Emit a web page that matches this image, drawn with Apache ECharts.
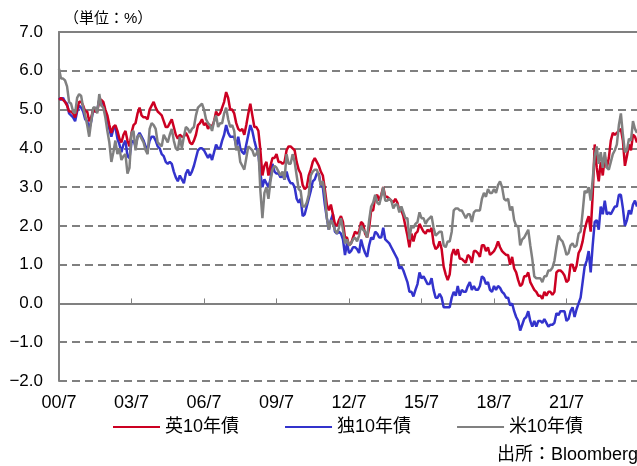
<!DOCTYPE html>
<html>
<head>
<meta charset="utf-8">
<script src="https://cdn.jsdelivr.net/npm/echarts@6/dist/echarts.min.js"></script>
<style>
html,body{margin:0;padding:0;background:#fff;}
#c{width:637px;height:466px;}
</style>
</head>
<body>
<div id="c"></div>
<script>
// monthly categories 2000/7 .. 2024/6 (labels like "00/7")
const startYear = 2000, startMonth = 7, monthCount = 288;
const categories = [];
for (let i = 0; i < monthCount; i++) {
  const m = (startMonth - 1 + i) % 12 + 1;
  const y = startYear + Math.floor((startMonth - 1 + i) / 12);
  categories.push(String(y % 100).padStart(2, '0') + '/' + m);
}

const seriesNames = ['英10年債', '独10年債', '米10年債'];

// UK 10y (%), monthly
const ukY = [
  5.25,5.30,5.25,5.20,5.10,4.95,
  4.95,4.90,4.80,5.00,5.20,5.20,5.10,4.95,4.95,4.70,4.80,5.00,
  4.95,4.95,5.25,5.25,5.20,5.00,4.85,4.60,4.40,4.55,4.60,4.45,
  4.25,4.15,4.35,4.45,4.20,4.05,4.40,4.60,4.65,4.90,5.05,4.85,
  4.80,4.80,4.75,5.00,5.10,5.20,5.05,4.95,4.90,4.85,4.70,4.55,
  4.55,4.65,4.75,4.55,4.35,4.25,4.35,4.30,4.30,4.40,4.30,4.15,
  4.10,4.20,4.35,4.60,4.65,4.75,4.60,4.65,4.50,4.60,4.55,4.70,
  4.95,4.85,4.90,5.05,5.20,5.45,5.30,5.00,5.00,4.90,4.65,4.50,
  4.45,4.50,4.35,4.60,4.90,5.15,4.85,4.55,4.55,4.45,3.95,3.30,
  3.55,3.65,3.30,3.55,3.75,3.75,3.85,3.65,3.65,3.60,3.65,3.95,
  4.05,4.05,4.00,3.95,3.65,3.45,3.35,3.05,2.95,3.00,3.30,3.45,
  3.65,3.75,3.65,3.55,3.40,3.30,2.95,2.55,2.40,2.55,2.30,2.05,
  2.00,2.15,2.25,2.10,1.70,1.70,1.50,1.55,1.70,1.85,1.80,1.85,
  2.10,2.05,1.80,1.70,1.95,2.40,2.40,2.75,2.80,2.65,2.80,3.00,
  2.75,2.75,2.70,2.65,2.60,2.70,2.60,2.40,2.40,2.25,2.00,1.75,
  1.45,1.80,1.60,1.80,1.85,2.05,1.95,1.85,1.80,1.90,1.85,1.95,
  1.55,1.40,1.45,1.60,1.40,0.95,0.75,0.60,0.75,1.25,1.40,1.25,
  1.40,1.15,1.15,1.10,1.05,1.25,1.20,1.05,1.35,1.35,1.30,1.20,
  1.50,1.50,1.35,1.45,1.25,1.30,1.35,1.45,1.60,1.45,1.35,1.30,
  1.25,1.25,1.00,1.20,0.90,0.80,0.60,0.45,0.50,0.70,0.70,0.80,
  0.55,0.45,0.35,0.30,0.20,0.20,0.12,0.30,0.20,0.30,0.30,0.22,
  0.30,0.80,0.85,0.85,0.80,0.72,0.55,0.60,1.00,1.00,0.82,0.97,
  1.30,1.40,1.60,1.90,2.10,2.25,1.85,2.80,4.10,3.50,3.15,3.65,
  3.30,3.80,3.50,3.75,4.20,4.40,4.35,4.40,4.45,4.50,4.20,3.55,
  3.80,4.10,3.95,4.35,4.30,4.15
];

// German 10y (%), monthly
const deY = [
  5.30,5.25,5.30,5.20,5.15,4.90,
  4.85,4.80,4.70,4.95,5.10,5.05,4.95,4.75,4.70,4.50,4.70,5.00,
  4.95,5.00,5.25,5.20,5.15,4.95,4.75,4.50,4.30,4.50,4.55,4.25,
  4.10,3.90,4.10,4.20,3.80,3.75,4.15,4.20,4.05,4.30,4.40,4.30,
  4.20,4.05,3.95,4.20,4.30,4.30,4.20,4.05,4.00,3.85,3.80,3.65,
  3.60,3.65,3.60,3.40,3.25,3.15,3.30,3.20,3.10,3.35,3.45,3.30,
  3.40,3.55,3.75,3.95,4.00,4.00,3.95,3.85,3.75,3.85,3.70,3.90,
  4.10,4.00,4.00,4.20,4.35,4.60,4.40,4.30,4.30,4.30,4.05,4.30,
  4.00,3.90,3.85,4.10,4.35,4.60,4.45,4.20,4.00,3.85,3.35,3.00,
  3.20,3.10,3.00,3.20,3.60,3.40,3.35,3.35,3.25,3.30,3.20,3.40,
  3.20,3.10,3.10,3.00,2.70,2.60,2.70,2.25,2.30,2.50,2.70,2.90,
  3.15,3.20,3.35,3.35,3.05,3.00,2.55,2.20,1.90,2.15,2.30,1.85,
  1.80,1.85,1.80,1.65,1.25,1.55,1.30,1.35,1.45,1.45,1.40,1.30,
  1.65,1.45,1.30,1.20,1.50,1.70,1.65,1.85,1.80,1.70,1.70,1.95,
  1.65,1.60,1.55,1.45,1.35,1.25,1.15,0.90,0.95,0.85,0.70,0.55,
  0.30,0.30,0.18,0.35,0.50,0.80,0.65,0.70,0.60,0.50,0.50,0.65,
  0.35,0.15,0.15,0.25,0.15,-0.10,-0.10,-0.10,-0.10,0.15,0.30,0.20,
  0.45,0.20,0.35,0.30,0.30,0.45,0.55,0.35,0.45,0.35,0.35,0.45,
  0.70,0.65,0.50,0.55,0.35,0.30,0.45,0.35,0.45,0.40,0.30,0.25,
  0.15,0.15,-0.05,0.00,-0.20,-0.35,-0.45,-0.70,-0.55,-0.40,-0.35,-0.20,
  -0.45,-0.60,-0.45,-0.60,-0.45,-0.45,-0.50,-0.40,-0.50,-0.60,-0.55,-0.55,
  -0.50,-0.25,-0.30,-0.20,-0.20,-0.20,-0.45,-0.40,-0.20,-0.10,-0.35,-0.15,
  0.00,0.15,0.55,0.95,1.10,1.35,0.80,1.50,2.10,2.15,1.90,2.50,
  2.30,2.65,2.30,2.35,2.30,2.40,2.50,2.50,2.80,2.80,2.45,2.00,
  2.15,2.40,2.30,2.55,2.65,2.50
];

// US 10y (%), monthly
const usY = [
  6.05,5.80,5.80,5.75,5.60,5.20,
  5.15,4.95,4.90,5.30,5.40,5.35,5.05,4.85,4.60,4.30,4.70,5.05,
  5.05,4.90,5.40,5.10,5.05,4.80,4.45,4.15,3.65,3.90,4.20,3.85,
  4.00,3.70,3.80,3.85,3.35,3.50,4.40,4.45,3.95,4.30,4.35,4.25,
  4.15,3.95,3.85,4.50,4.65,4.60,4.50,4.15,4.10,4.05,4.35,4.25,
  4.15,4.35,4.50,4.20,4.00,3.95,4.30,4.00,4.30,4.55,4.50,4.40,
  4.50,4.55,4.85,5.05,5.10,5.15,5.00,4.75,4.65,4.60,4.45,4.70,
  4.85,4.55,4.65,4.65,4.90,5.05,4.75,4.55,4.60,4.45,3.95,4.05,
  3.65,3.55,3.45,3.75,4.05,4.00,3.95,3.80,3.85,4.00,2.90,2.20,
  2.85,3.00,2.70,3.15,3.45,3.55,3.50,3.40,3.30,3.40,3.20,3.85,
  3.60,3.60,3.85,3.65,3.30,2.95,2.90,2.50,2.50,2.60,2.80,3.30,
  3.40,3.45,3.45,3.30,3.05,3.15,2.80,2.20,1.90,2.15,2.05,1.90,
  1.80,1.95,2.20,1.90,1.55,1.65,1.50,1.55,1.65,1.70,1.60,1.75,
  2.00,1.90,1.85,1.70,2.15,2.50,2.60,2.80,2.60,2.55,2.75,3.00,
  2.65,2.65,2.70,2.65,2.45,2.55,2.55,2.35,2.50,2.35,2.20,2.20,
  1.65,2.00,1.95,2.05,2.10,2.35,2.20,2.20,2.05,2.15,2.20,2.25,
  1.95,1.75,1.80,1.85,1.85,1.50,1.45,1.60,1.60,1.85,2.40,2.45,
  2.45,2.40,2.40,2.30,2.20,2.30,2.30,2.10,2.35,2.40,2.40,2.40,
  2.70,2.85,2.75,2.95,2.85,2.85,2.95,2.85,3.05,3.15,3.00,2.70,
  2.65,2.70,2.40,2.50,2.15,2.00,2.00,1.50,1.65,1.70,1.80,1.90,
  1.50,1.15,0.70,0.65,0.65,0.65,0.55,0.70,0.70,0.85,0.85,0.92,
  1.10,1.45,1.75,1.65,1.60,1.45,1.25,1.30,1.50,1.55,1.45,1.50,
  1.80,1.85,2.35,2.90,2.85,3.00,2.65,3.20,3.80,4.05,3.60,3.90,
  3.50,3.90,3.50,3.45,3.65,3.85,3.95,4.10,4.60,4.90,4.35,3.90,
  3.95,4.25,4.20,4.70,4.50,4.40
];

const colors = ['#cc0022', '#3333cc', '#808080'];
const font = '"Liberation Sans", "Noto Sans CJK JP", sans-serif';

const chart = echarts.init(document.getElementById('c'), null, {renderer: 'canvas'});
const axisGray = '#808080';

const mk = (name, data, color, z) => ({
  name, type: 'line', data, showSymbol: false, symbol: 'none',
  lineStyle: {color, width: 2.5}, itemStyle: {color}, z, animation: false
});

chart.setOption({
  animation: false,
  textStyle: {fontFamily: font, color: '#000'},
  grid: {left: 59, top: 32, right: 0, bottom: 85, containLabel: false},
  legend: {
    data: seriesNames, left: 108, top: 413, icon: 'rect',
    itemWidth: 47, itemHeight: 2, itemGap: 46,
    textStyle: {fontSize: 18, color: '#000', fontFamily: font}
  },
  graphic: [
    {type: 'text', left: 64, top: 11, style: {text: '（単位：%）', fontSize: 15, fill: '#000', fontFamily: font}},
    {type: 'text', left: 497, top: 446, style: {text: '出所：Bloomberg', fontSize: 18, fill: '#000', fontFamily: font}}
  ],
  xAxis: [{
    type: 'category', data: categories, boundaryGap: false,
    axisLine: {lineStyle: {color: axisGray, width: 2}},
    axisTick: {show: true, inside: true, length: 5, interval: 35, lineStyle: {color: axisGray, width: 1}},
    axisLabel: {interval: 35, margin: 13, fontSize: 18, color: '#000', fontFamily: font},
    splitLine: {show: false}
  }, {
    type: 'category', data: categories, boundaryGap: false, position: 'top',
    axisLine: {lineStyle: {color: axisGray, width: 2}},
    axisTick: {show: false}, axisLabel: {show: false}, splitLine: {show: false}
  }],
  yAxis: {
    type: 'value', min: -2, max: 7, interval: 1,
    axisLine: {show: true, lineStyle: {color: axisGray, width: 2}},
    axisTick: {show: false},
    axisLabel: {margin: 16, fontSize: 17, color: '#000', fontFamily: font,
      formatter: v => v.toFixed(1).replace('-', '−')},
    splitLine: {show: true, lineStyle: {color: axisGray, width: 2, type: [8, 5]}}
  },
  series: [
    mk(seriesNames[1], deY, colors[1], 2),
    mk(seriesNames[0], ukY, colors[0], 3),
    mk(seriesNames[2], usY, colors[2], 4)
  ],
  color: colors
});
</script>
</body>
</html>
